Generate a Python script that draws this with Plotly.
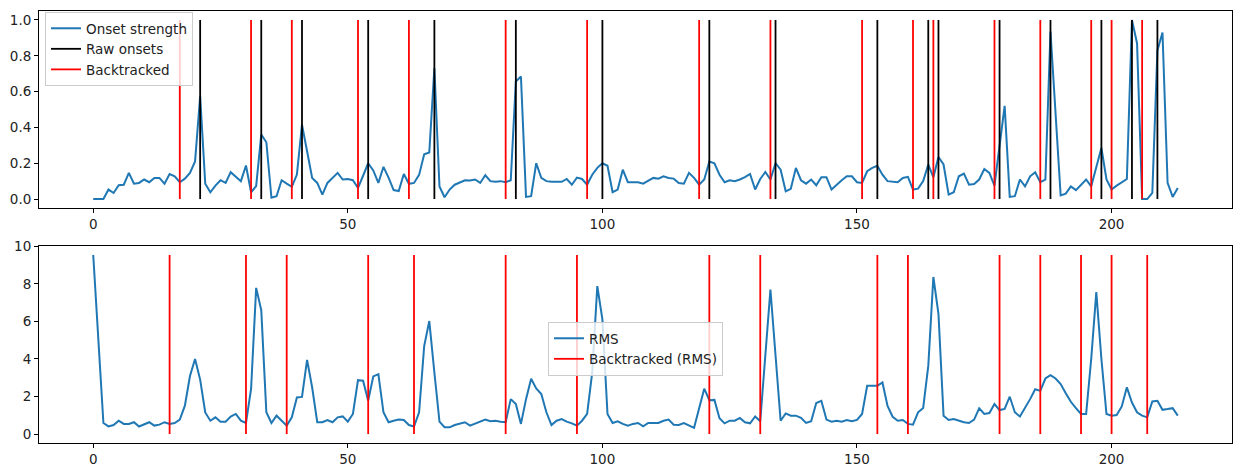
import plotly.graph_objects as go

frames = list(range(214))

onset_strength = [
    0, 0, 0, 0.053, 0.034, 0.077, 0.08, 0.146, 0.086, 0.09,
    0.109, 0.094, 0.118, 0.118, 0.086, 0.14, 0.127, 0.094, 0.114, 0.146,
    0.21, 0.573, 0.086, 0.038, 0.075, 0.105, 0.09, 0.15, 0.127, 0.1,
    0.187, 0.038, 0.072, 0.36, 0.317, 0.007, 0.016, 0.105, 0.086, 0.068,
    0.137, 0.415, 0.267, 0.118, 0.09, 0.025, 0.09, 0.118, 0.146, 0.109,
    0.112, 0.105, 0.062, 0.13, 0.2, 0.16, 0.09, 0.18, 0.12, 0.05,
    0.045, 0.14, 0.085, 0.09, 0.135, 0.25, 0.26, 0.73, 0.07, 0.01,
    0.053, 0.08, 0.093, 0.105, 0.103, 0.109, 0.09, 0.133, 0.1, 0.096,
    0.1, 0.094, 0.105, 0.656, 0.684, 0.012, 0.016, 0.2, 0.118, 0.1,
    0.096, 0.096, 0.096, 0.112, 0.08, 0.12, 0.112, 0.08, 0.136, 0.174,
    0.2, 0.186, 0.038, 0.053, 0.164, 0.094, 0.096, 0.094, 0.086, 0.1,
    0.118, 0.114, 0.127, 0.118, 0.114, 0.09, 0.086, 0.146, 0.118, 0.08,
    0.109, 0.21, 0.2, 0.136, 0.094, 0.105, 0.1, 0.109, 0.122, 0.14,
    0.053, 0.112, 0.151, 0.109, 0.2, 0.164, 0.043, 0.057, 0.174, 0.105,
    0.086, 0.109, 0.077, 0.122, 0.122, 0.053, 0.08, 0.105, 0.127, 0.127,
    0.094, 0.09, 0.155, 0.174, 0.186, 0.136, 0.1, 0.096, 0.094, 0.118,
    0.124, 0.053, 0.058, 0.1, 0.192, 0.122, 0.235, 0.193, 0.025, 0.038,
    0.127, 0.142, 0.08, 0.084, 0.109, 0.168, 0.146, 0.075, 0.313, 0.52,
    0.012, 0.016, 0.109, 0.071, 0.127, 0.15, 0.094, 0.109, 0.935, 0.48,
    0.02, 0.03, 0.071, 0.05, 0.08, 0.109, 0.071, 0.183, 0.285, 0.109,
    0.053, 0.075, 0.094, 0.112, 1.0, 0.87, 0.0, 0.0, 0.034, 0.83,
    0.93, 0.09, 0.012, 0.062,
]

rms = [
    9.54, 5.0, 0.59, 0.41, 0.48, 0.71, 0.54, 0.54, 0.63, 0.4,
    0.5, 0.63, 0.45, 0.5, 0.63, 0.54, 0.59, 0.77, 1.51, 3.09,
    4.0, 2.9, 1.15, 0.71, 0.89, 0.66, 0.66, 0.93, 1.07, 0.71,
    0.59, 2.4, 7.79, 6.6, 1.16, 0.59, 0.98, 0.71, 0.45, 0.89,
    1.95, 1.98, 3.95, 2.48, 0.63, 0.63, 0.75, 0.63, 0.89, 0.94,
    0.66, 1.07, 2.87, 2.84, 1.78, 3.07, 3.19, 1.16, 0.63, 0.71,
    0.77, 0.75, 0.48, 0.4, 1.16, 4.69, 6.02, 3.28, 0.66, 0.36,
    0.36, 0.48, 0.57, 0.63, 0.45, 0.57, 0.66, 0.77, 0.68, 0.71,
    0.66, 0.63, 1.86, 1.6, 0.54, 1.86, 2.95, 2.43, 2.13, 1.16,
    0.48, 0.71, 0.8, 0.66, 0.57, 0.45, 0.71, 1.07, 3.28, 7.88,
    6.11, 1.07, 0.59, 0.68, 0.54, 0.45, 0.54, 0.59, 0.41, 0.59,
    0.59, 0.59, 0.71, 0.77, 0.5, 0.48, 0.59, 0.45, 0.33, 1.38,
    2.42, 1.8, 1.82, 0.84, 0.57, 0.71, 0.71, 0.86, 0.63, 0.57,
    0.94, 0.68, 4.2, 7.7, 4.2, 0.71, 1.1, 0.98, 0.98, 0.86,
    0.59, 0.68, 1.65, 1.77, 0.77, 0.66, 0.71, 0.66, 0.75, 0.68,
    0.75, 1.07, 2.57, 2.57, 2.57, 2.75, 1.5, 0.92, 0.71, 0.75,
    0.54, 0.5, 1.16, 1.39, 3.63, 8.37, 6.4, 0.98, 0.75, 0.8,
    0.71, 0.63, 0.59, 0.77, 1.37, 1.07, 1.12, 1.6, 1.28, 1.34,
    1.99, 1.16, 0.94, 1.37, 1.86, 2.39, 2.3, 2.96, 3.14, 2.96,
    2.66, 2.18, 1.72, 1.38, 1.07, 1.07, 4.0, 7.56, 4.0, 1.07,
    0.98, 1.01, 1.47, 2.49, 1.68, 1.16, 0.98, 0.89, 1.74, 1.77,
    1.29, 1.33, 1.38, 0.98,
]

raw_onsets = [21, 33, 41, 54, 67, 83, 100, 121, 134, 154, 164, 166, 178, 188, 198, 204, 209]
backtracked = [17, 31, 39, 52, 62, 81, 97, 119, 133, 151, 161, 165, 177, 186, 196, 200, 206]
backtracked_rms = [15, 30, 38, 54, 63, 81, 95, 121, 131, 154, 160, 178, 186, 194, 200, 207]

x_ticks = [0, 50, 100, 150, 200]
y1_ticks = [0.0, 0.2, 0.4, 0.6, 0.8, 1.0]
y2_ticks = [0, 2, 4, 6, 8, 10]

BLUE = "#1f77b4"
RED = "#ff0000"
BLACK = "#000000"
FONT = "DejaVu Sans"
FS = 13.5


def vlines(positions, top):
    xs, ys = [], []
    for p in positions:
        xs += [p, p, None]
        ys += [0, top, None]
    return xs, ys


fig = go.Figure()

fig.add_trace(go.Scatter(x=frames, y=onset_strength, mode="lines", name="Onset strength",
                         line=dict(color=BLUE, width=2), xaxis="x", yaxis="y", legend="legend"))
vx, vy = vlines(raw_onsets, max(onset_strength))
fig.add_trace(go.Scatter(x=vx, y=vy, mode="lines", name="Raw onsets",
                         line=dict(color=BLACK, width=1.8), xaxis="x", yaxis="y", legend="legend"))
vx, vy = vlines(backtracked, max(onset_strength))
fig.add_trace(go.Scatter(x=vx, y=vy, mode="lines", name="Backtracked",
                         line=dict(color=RED, width=1.8), xaxis="x", yaxis="y", legend="legend"))

fig.add_trace(go.Scatter(x=frames, y=rms, mode="lines", name="RMS",
                         line=dict(color=BLUE, width=2), xaxis="x2", yaxis="y2", legend="legend2"))
vx, vy = vlines(backtracked_rms, max(rms))
fig.add_trace(go.Scatter(x=vx, y=vy, mode="lines", name="Backtracked (RMS)",
                         line=dict(color=RED, width=1.8), xaxis="x2", yaxis="y2", legend="legend2"))

W, H = 1233, 468
mt, mb, ml, mr = 11, 25, 39, 1
ph = H - mt - mb
pw = W - ml - mr
panel_h = 197.0
top_dom = [1 - panel_h / ph, 1]
bot_dom = [0, panel_h / ph]

axis_common = dict(showline=True, linecolor=BLACK, linewidth=1, mirror=True,
                   ticks="outside", ticklen=4, tickcolor=BLACK, tickwidth=1,
                   showgrid=False, zeroline=False, automargin=False,
                   tickfont=dict(family=FONT, size=FS, color="#222222"))

legend_common = dict(xanchor="left", yanchor="top",
                     bgcolor="rgba(255,255,255,0.8)", bordercolor="#cccccc", borderwidth=1,
                     font=dict(family=FONT, size=FS, color="#222222"), tracegroupgap=0)

xr = [-0.05 * 213, 1.05 * 213]
fig.update_layout(
    width=W, height=H,
    margin=dict(l=ml, r=mr, t=mt, b=mb, autoexpand=False),
    paper_bgcolor="white", plot_bgcolor="white",
    font=dict(family=FONT, size=FS, color="#222222"),
    xaxis=dict(domain=[0, 1], anchor="y", range=xr, tickvals=x_ticks, **axis_common),
    yaxis=dict(domain=top_dom, anchor="x", range=[-0.05, 1.05], tickvals=y1_ticks,
               tickformat=".1f", **axis_common),
    xaxis2=dict(domain=[0, 1], anchor="y2", range=xr, tickvals=x_ticks, **axis_common),
    yaxis2=dict(domain=bot_dom, anchor="x2", range=[-0.477, 10.02], tickvals=y2_ticks, **axis_common),
    legend=dict(x=(45 - ml) / pw, y=(H - mb - 12) / ph, **legend_common),
    legend2=dict(x=(548 - ml) / pw, y=(H - mb - 322) / ph, **legend_common),
    showlegend=True,
)

fig.write_html("out.html",
               config={"displayModeBar": False},
               post_script="document.body.style.margin='0';document.body.style.overflow='hidden';")
